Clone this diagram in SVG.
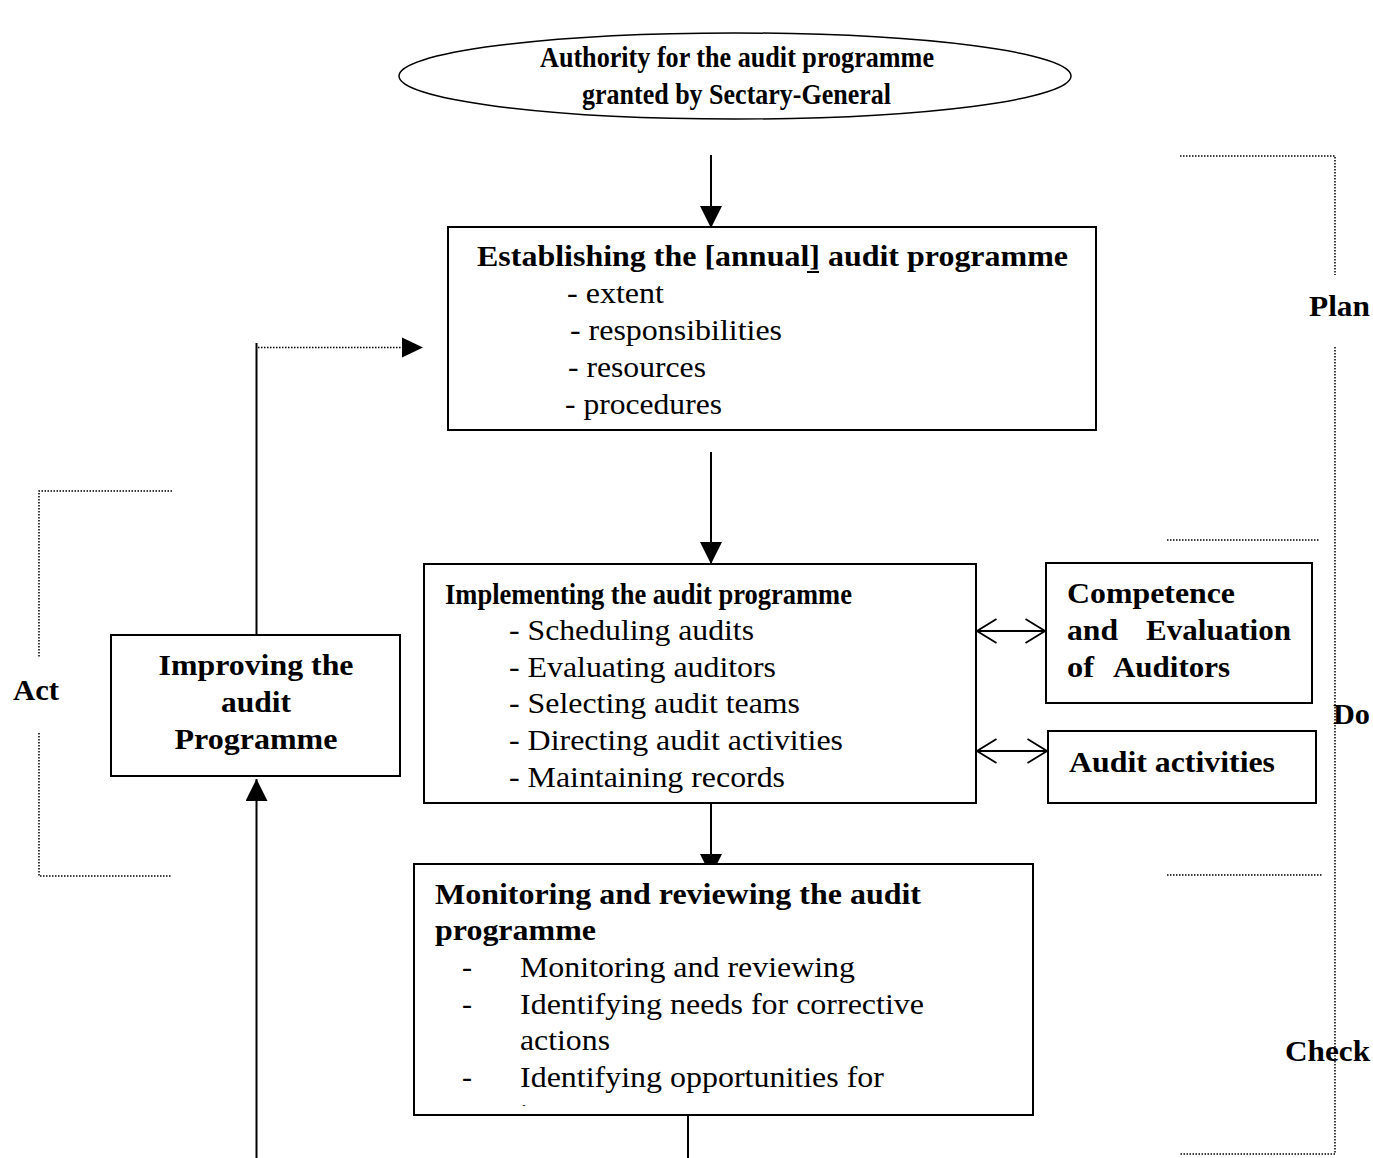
<svg xmlns="http://www.w3.org/2000/svg" width="1373" height="1158" viewBox="0 0 1373 1158">
<style>
.box{fill:#fff;stroke:#000;stroke-width:2}
.t{font-family:"Liberation Serif","Times New Roman",serif;font-size:30px;fill:#000}
.b{font-weight:bold}
.ln{stroke:#000;stroke-width:2;fill:none}
.dot{stroke:#000;stroke-width:1.5;fill:none;stroke-dasharray:1.5 1.5}
</style>
<defs>
<marker id="fa" markerUnits="userSpaceOnUse" markerWidth="22" markerHeight="22" viewBox="0 0 20 20" refX="20" refY="10" orient="auto">
<path d="M0,0 L20,10 L0,20 z" fill="#000"/>
</marker>
<marker id="va" markerUnits="userSpaceOnUse" markerWidth="22" markerHeight="26" viewBox="0 0 20 24" refX="19" refY="12" orient="auto-start-reverse">
<path d="M1,1 L19,12 L1,23" fill="none" stroke="#000" stroke-width="1.6"/>
</marker>
<clipPath id="monclip"><rect x="414" y="864" width="619" height="242"/></clipPath>
</defs>

<g id="brackets">
<path class="dot" d="M1180,156 H1335 V275"/>
<path class="dot" d="M1335,347 V1154 H1180"/>
<path class="dot" d="M1167,540 H1320"/>
<path class="dot" d="M1167,875 H1322"/>
<path class="dot" d="M172,491 H39 V657"/>
<path class="dot" d="M39,733 V876 H172"/>
<text class="t b" x="1309" y="316" textLength="61" lengthAdjust="spacingAndGlyphs">Plan</text>
<text class="t b" x="1333" y="724" textLength="37" lengthAdjust="spacingAndGlyphs">Do</text>
<text class="t b" x="1285" y="1061" textLength="85" lengthAdjust="spacingAndGlyphs">Check</text>
<text class="t b" x="13" y="700" textLength="46" lengthAdjust="spacingAndGlyphs">Act</text>
</g>

<g id="connectors">
<line class="ln" x1="711" y1="155" x2="711" y2="228" marker-end="url(#fa)"/>
<line class="ln" x1="711" y1="452" x2="711" y2="564" marker-end="url(#fa)"/>
<line class="ln" x1="711" y1="803" x2="711" y2="876" marker-end="url(#fa)"/>
<line class="ln" x1="977" y1="631" x2="1045" y2="631" marker-start="url(#va)" marker-end="url(#va)"/>
<line class="ln" x1="977" y1="751" x2="1047" y2="751" marker-start="url(#va)" marker-end="url(#va)"/>
<line class="ln" x1="688" y1="1115" x2="688" y2="1158"/>
<line class="ln" x1="256.5" y1="1158" x2="256.5" y2="779" marker-end="url(#fa)"/>
<line class="ln" x1="256.5" y1="635" x2="256.5" y2="343"/>
<line class="dot" x1="258" y1="347.5" x2="404" y2="347.5"/>
<path d="M402,337.5 L423,347.5 L402,357.5 z" fill="#000"/>
</g>

<g id="authority">
<ellipse cx="735" cy="76" rx="336" ry="43" fill="#fff" stroke="#000" stroke-width="1.5"/>
<text class="t b" x="540" y="67" font-size="29" textLength="394" lengthAdjust="spacingAndGlyphs">Authority for the audit programme</text>
<text class="t b" x="582" y="104" font-size="29" textLength="309" lengthAdjust="spacingAndGlyphs">granted by Sectary-General</text>
</g>

<g id="establishing">
<rect class="box" x="448" y="227" width="648" height="203"/>
<text class="t b" x="477" y="266" textLength="591" lengthAdjust="spacingAndGlyphs">Establishing the [annual] audit programme</text>
<line x1="807" y1="272" x2="819" y2="272" stroke="#000" stroke-width="2"/>
<text class="t" x="567" y="303" textLength="97" lengthAdjust="spacingAndGlyphs">- extent</text>
<text class="t" x="570" y="340" textLength="212" lengthAdjust="spacingAndGlyphs">- responsibilities</text>
<text class="t" x="568" y="377" textLength="138" lengthAdjust="spacingAndGlyphs">- resources</text>
<text class="t" x="565" y="414" textLength="157" lengthAdjust="spacingAndGlyphs">- procedures</text>
</g>

<g id="implementing">
<rect class="box" x="424" y="564" width="552" height="239"/>
<text class="t b" x="445" y="604" textLength="407" lengthAdjust="spacingAndGlyphs">Implementing the audit programme</text>
<text class="t" x="509" y="640" textLength="245" lengthAdjust="spacingAndGlyphs">- Scheduling audits</text>
<text class="t" x="509" y="677" textLength="267" lengthAdjust="spacingAndGlyphs">- Evaluating auditors</text>
<text class="t" x="509" y="713" textLength="291" lengthAdjust="spacingAndGlyphs">- Selecting audit teams</text>
<text class="t" x="509" y="750" textLength="334" lengthAdjust="spacingAndGlyphs">- Directing audit activities</text>
<text class="t" x="509" y="787" textLength="276" lengthAdjust="spacingAndGlyphs">- Maintaining records</text>
</g>

<g id="competence">
<rect class="box" x="1046" y="563" width="266" height="140"/>
<text class="t b" x="1067" y="603" textLength="168" lengthAdjust="spacingAndGlyphs">Competence</text>
<text class="t b" y="640"><tspan x="1067" textLength="51" lengthAdjust="spacingAndGlyphs">and</tspan><tspan x="1146" textLength="145" lengthAdjust="spacingAndGlyphs">Evaluation</tspan></text>
<text class="t b" y="677"><tspan x="1067" textLength="27" lengthAdjust="spacingAndGlyphs">of</tspan><tspan x="1113" textLength="117" lengthAdjust="spacingAndGlyphs">Auditors</tspan></text>
</g>

<g id="activities">
<rect class="box" x="1048" y="731" width="268" height="72"/>
<text class="t b" x="1069" y="772" textLength="206" lengthAdjust="spacingAndGlyphs">Audit activities</text>
</g>

<g id="monitoring">
<rect class="box" x="414" y="864" width="619" height="251"/>
<text class="t b" x="435" y="904" textLength="486" lengthAdjust="spacingAndGlyphs">Monitoring and reviewing the audit</text>
<text class="t b" x="435" y="940" textLength="161" lengthAdjust="spacingAndGlyphs">programme</text>
<text class="t" x="462" y="977">-</text>
<text class="t" x="520" y="977" textLength="335" lengthAdjust="spacingAndGlyphs">Monitoring and reviewing</text>
<text class="t" x="462" y="1014">-</text>
<text class="t" x="520" y="1014" textLength="404" lengthAdjust="spacingAndGlyphs">Identifying needs for corrective</text>
<text class="t" x="520" y="1050" textLength="90" lengthAdjust="spacingAndGlyphs">actions</text>
<text class="t" x="462" y="1087">-</text>
<text class="t" x="520" y="1087" textLength="364" lengthAdjust="spacingAndGlyphs">Identifying opportunities for</text>
<text class="t" x="520" y="1124" clip-path="url(#monclip)">improvement</text>
</g>

<g id="improving">
<rect class="box" x="111" y="635" width="289" height="141"/>
<text class="t b" x="256" y="675" text-anchor="middle" textLength="195" lengthAdjust="spacingAndGlyphs">Improving the</text>
<text class="t b" x="256" y="712" text-anchor="middle" textLength="70" lengthAdjust="spacingAndGlyphs">audit</text>
<text class="t b" x="256" y="749" text-anchor="middle" textLength="163" lengthAdjust="spacingAndGlyphs">Programme</text>
</g>
</svg>
